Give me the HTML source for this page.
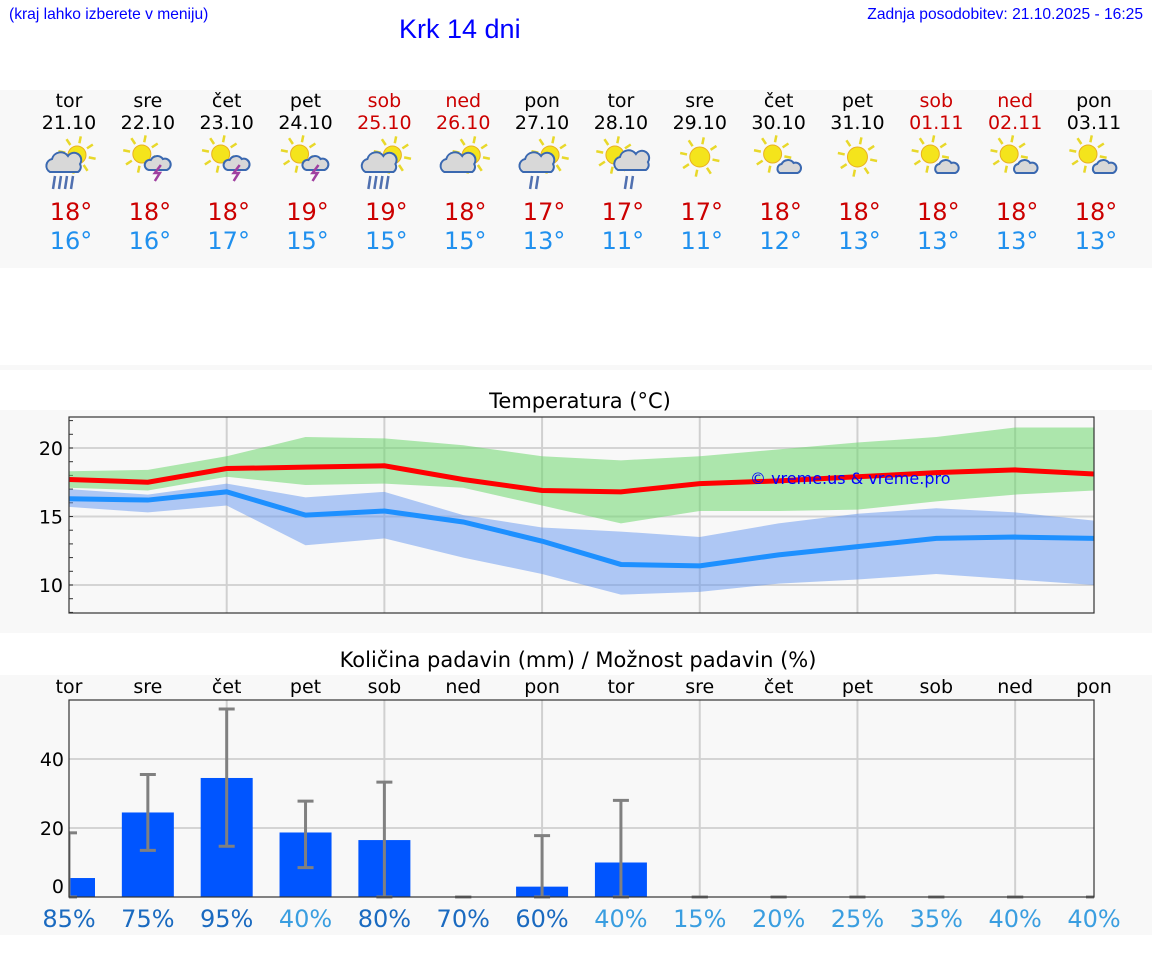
<!DOCTYPE html>
<html><head><meta charset="utf-8">
<style>
body{margin:0;width:1152px;height:975px;background:#fff;font-family:"DejaVu Sans","Liberation Sans",sans-serif;position:relative;overflow:hidden}
.abs{position:absolute}
svg text{font-family:"DejaVu Sans","Liberation Sans",sans-serif}
</style></head>
<body>
<svg id="main" class="abs" style="left:0;top:0" width="1152" height="975"></svg>
<div class="abs" style="left:9px;top:6px;font-size:15.6px;color:#00f;font-family:'Liberation Sans',sans-serif">(kraj lahko izberete v meniju)</div>
<div class="abs" style="left:399px;top:14px;font-size:27px;color:#00f;font-family:'Liberation Sans',sans-serif">Krk 14 dni</div>
<div class="abs" style="right:9px;top:6px;font-size:15.6px;color:#00f;font-family:'Liberation Sans',sans-serif">Zadnja posodobitev: 21.10.2025 - 16:25</div>
<script>
const days=["tor","sre","čet","pet","sob","ned","pon","tor","sre","čet","pet","sob","ned","pon"];
const dates=["21.10","22.10","23.10","24.10","25.10","26.10","27.10","28.10","29.10","30.10","31.10","01.11","02.11","03.11"];
const weekend=[0,0,0,0,1,1,0,0,0,0,0,1,1,0];
const icons=["rain","storm","storm","storm","rain","cloud","rain2","rain3","sun","few","sun","few","few","few"];
const tMaxDay=[18,18,18,19,19,18,17,17,17,18,18,18,18,18];
const tMinDay=[16,16,17,15,15,15,13,11,11,12,13,13,13,13];
const maxLine=[17.7,17.5,18.5,18.6,18.7,17.7,16.9,16.8,17.4,17.6,17.9,18.2,18.4,18.1];
const maxHi=[18.3,18.4,19.4,20.8,20.7,20.2,19.4,19.1,19.4,19.9,20.4,20.8,21.5,21.5];
const maxLo=[17.1,16.9,17.9,17.3,17.4,17.1,15.8,14.5,15.4,15.4,15.5,16.1,16.6,16.9];
const minLine=[16.3,16.2,16.8,15.1,15.4,14.6,13.2,11.5,11.4,12.2,12.8,13.4,13.5,13.4];
const minHi=[17.0,16.6,17.4,16.4,16.8,15.1,14.2,13.9,13.5,14.5,15.2,15.6,15.3,14.7];
const minLo=[15.7,15.3,15.8,12.9,13.4,12.0,10.8,9.3,9.5,10.1,10.4,10.8,10.4,10.0];
const tempTicks=[10,15,20];
const precip=[5.5,24.5,34.5,18.7,16.5,0,3,10,0,0,0,0,0,0];
const errHi=[18.6,35.5,54.5,27.8,33.3,0,17.8,28,0,0,0,0,0,0];
const errLo=[0,13.5,14.7,8.5,0,0,0,0,0,0,0,0,0,0];
const precipTicks=[0,20,40];
const chance=[85,75,95,40,80,70,60,40,15,20,25,35,40,40];

const NS="http://www.w3.org/2000/svg";
const svg=document.getElementById('main');
function mk(tag,attrs,parent,text){const e=document.createElementNS(NS,tag);for(const k in attrs)e.setAttribute(k,attrs[k]);if(text!==undefined)e.textContent=text;(parent||svg).appendChild(e);return e;}
const X=i=>69+i*(1025/13);
let b;
b=mk('rect',{x:0,y:90,width:1152,height:178,fill:'#f8f8f8'});


mk('rect',{x:0,y:365,width:1152,height:5,fill:'#f8f8f8'});
b=mk('rect',{x:0,y:410,width:1152,height:223,fill:'#f8f8f8'});


b=mk('rect',{x:0,y:675,width:1152,height:260,fill:'#f8f8f8'});



function sun(g,cx,cy,r){
  for(let k=0;k<8;k++){const a=k*Math.PI/4+0.2;mk('line',{x1:cx+Math.cos(a)*(r+3),y1:cy+Math.sin(a)*(r+3),x2:cx+Math.cos(a)*(r+10),y2:cy+Math.sin(a)*(r+10),stroke:'#e8d82a','stroke-width':2.5},g);}
  mk('circle',{cx,cy,r,fill:'#f4e41c',stroke:'#e8b020','stroke-width':1},g);
}
function cloud(g,cx,cy,s){
  mk('path',{d:`M${cx-15*s},${cy+8*s} a7,7 0 0 1 2,-13 a9,9 0 0 1 16,-3 a7,7 0 0 1 12,8 a6,6 0 0 1 -2,8 z`,fill:'#d8d8d8',stroke:'#3a68b0','stroke-width':2},g);
}
function rain(g,cx,cy,n){for(let k=0;k<n;k++)mk('line',{x1:cx+k*6,y1:cy,x2:cx-2+k*6,y2:cy+13,stroke:'#5070b0','stroke-width':2.5},g);}
function bolt(g,cx,cy){mk('path',{d:`M${cx+3},${cy} L${cx-3},${cy+8} L${cx+2},${cy+8} L${cx-3},${cy+16}`,fill:'none',stroke:'#a040a0','stroke-width':2.5},g);}
function icon(i,t){
  const g=mk('g',{});
  
  
  const cx=X(i),cy=160;
  if(t==='rain'){sun(g,cx+8,cy-5,9);cloud(g,cx-4,cy+4,1);rain(g,cx-14,cy+16,4);}
  else if(t==='rain2'){sun(g,cx+8,cy-5,9);cloud(g,cx-4,cy+4,1);rain(g,cx-10,cy+16,2);}
  else if(t==='rain3'){sun(g,cx-6,cy-5,9);cloud(g,cx+12,cy+2,1);rain(g,cx+6,cy+16,2);}
  else if(t==='storm'){sun(g,cx-6,cy-6,9);mk('path',{d:`M${cx+1},${cy+10} a5,5 0 0 1 2,-10 a7,7 0 0 1 12,-1 a5,5 0 0 1 4,11 z`,fill:'#d8d8d8',stroke:'#3a68b0','stroke-width':2},g);bolt(g,cx+10,cy+5);}
  else if(t==='cloud'){sun(g,cx+8,cy-5,9);cloud(g,cx-4,cy+4,1);}
  else if(t==='sun'){sun(g,cx,cy-3,10);}
  else {sun(g,cx-6,cy-6,9);mk('path',{d:`M${cx+1},${cy+13} a5,5 0 0 1 2,-9 a7,7 0 0 1 12,-1 a5,5 0 0 1 4,10 z`,fill:'#d8d8d8',stroke:'#3a68b0','stroke-width':2},g);}
}
for(let i=0;i<14;i++){
  const c=weekend[i]?'#cc0000':'#000';
  let t=mk('text',{x:X(i),y:107,'text-anchor':'middle','font-size':19,fill:c},svg,days[i]);
  
  
  t=mk('text',{x:X(i),y:129,'text-anchor':'middle','font-size':19,fill:c},svg,dates[i]);
  
  
  icon(i,icons[i]);
  t=mk('text',{x:X(i)+2,y:220,'text-anchor':'middle','font-size':24,fill:'#cc0000'},svg,tMaxDay[i]+'°');
  
  
  t=mk('text',{x:X(i)+2,y:249,'text-anchor':'middle','font-size':24,fill:'#2090ee'},svg,tMinDay[i]+'°');
  
  
}
const TL=69,TR=1094,TT=417,TB=613;
const TY=v=>448+(20-v)*13.7;
let tt=mk('text',{x:580,y:408,'text-anchor':'middle','font-size':21},svg,'Temperatura (°C)');


for(const v of tempTicks){mk('line',{x1:TL,x2:TR,y1:TY(v),y2:TY(v),stroke:'#d4d4d4','stroke-width':2});
  const l=mk('text',{x:63,y:TY(v)+7,'text-anchor':'end','font-size':19},svg,String(v));
  
  }
for(let v=8;v<=22;v++)mk('line',{x1:TL,x2:TL+4,y1:TY(v),y2:TY(v),stroke:'#333','stroke-width':1});
for(let i=2;i<14;i+=2)mk('line',{x1:X(i),x2:X(i),y1:TT,y2:TB,stroke:'#d0d0d0','stroke-width':2});
function band(hi,lo,fill,name){
  let d='M'+hi.map((v,i)=>X(i)+','+TY(v)).join(' L');
  d+=' L'+lo.map((v,i)=>X(i)+','+TY(v)).reverse().join(' L')+' Z';
  const p=mk('path',{d,fill,'clip-path':'url(#tclip)'});
  
  
}
const defs=mk('defs',{});const cp=mk('clipPath',{id:'tclip'},defs);mk('rect',{x:TL,y:TT,width:TR-TL,height:TB-TT},cp);
band(minHi,minLo,'rgba(100,150,240,0.5)','min-temp-range');
band(maxHi,maxLo,'rgba(110,215,110,0.55)','max-temp-range');
function line(vals,col,name){const p=mk('polyline',{points:vals.map((v,i)=>X(i)+','+TY(v)).join(' '),fill:'none',stroke:col,'stroke-width':5,'clip-path':'url(#tclip)'});
  
  }
line(minLine,'#1e90ff','min-temp-line');
line(maxLine,'#ff0000','max-temp-line');
mk('rect',{x:TL,y:TT,width:TR-TL,height:TB-TT,fill:'none',stroke:'#333','stroke-width':1.2});
let wm=mk('text',{x:750,y:484,'font-size':16,fill:'#0000ff','font-family':'Liberation Sans'},svg,'© vreme.us & vreme.pro');


const PL=69,PR=1094,PT=700,PB=897;
const PY=v=>897-v*3.45;
tt=mk('text',{x:578,y:667,'text-anchor':'middle','font-size':21},svg,'Količina padavin (mm) / Možnost padavin (%)');


for(let i=0;i<14;i++){const l=mk('text',{x:X(i),y:693,'text-anchor':'middle','font-size':19},svg,days[i]);
  
  }
for(const v of precipTicks){if(v>0)mk('line',{x1:PL,x2:PR,y1:PY(v),y2:PY(v),stroke:'#d4d4d4','stroke-width':2});
  const l=mk('text',{x:64,y:PY(v)+(v===0?-4:7),'text-anchor':'end','font-size':19},svg,String(v));
  
  }
for(let i=2;i<14;i+=2)mk('line',{x1:X(i),x2:X(i),y1:PT,y2:PB,stroke:'#d0d0d0','stroke-width':2});
const pdefs=mk('clipPath',{id:'pclip'},defs);mk('rect',{x:PL,y:PT,width:PR-PL,height:PB-PT+2},pdefs);
for(let i=0;i<14;i++){
  if(precip[i]>0){const r=mk('rect',{x:X(i)-26,y:PY(precip[i]),width:52,height:PB-PY(precip[i]),fill:'#0055ff','clip-path':'url(#pclip)'});
    
    }
  const g=mk('g',{stroke:'#808080','stroke-width':3,'clip-path':'url(#pclip)'});
  
  
  mk('line',{x1:X(i),x2:X(i),y1:PY(errHi[i]),y2:PY(errLo[i])},g);
  mk('line',{x1:X(i)-8,x2:X(i)+8,y1:PY(errHi[i]),y2:PY(errHi[i])},g);
  mk('line',{x1:X(i)-8,x2:X(i)+8,y1:PY(errLo[i]),y2:PY(errLo[i])},g);
  const l=mk('text',{x:X(i),y:927,'text-anchor':'middle','font-size':24,fill:chance[i]>=60?'#1a6ac0':'#3a9ee0'},svg,chance[i]+'%');
  
  
}
mk('rect',{x:PL,y:PT,width:PR-PL,height:PB-PT,fill:'none',stroke:'#333','stroke-width':1.2});
</script>
</body></html>
